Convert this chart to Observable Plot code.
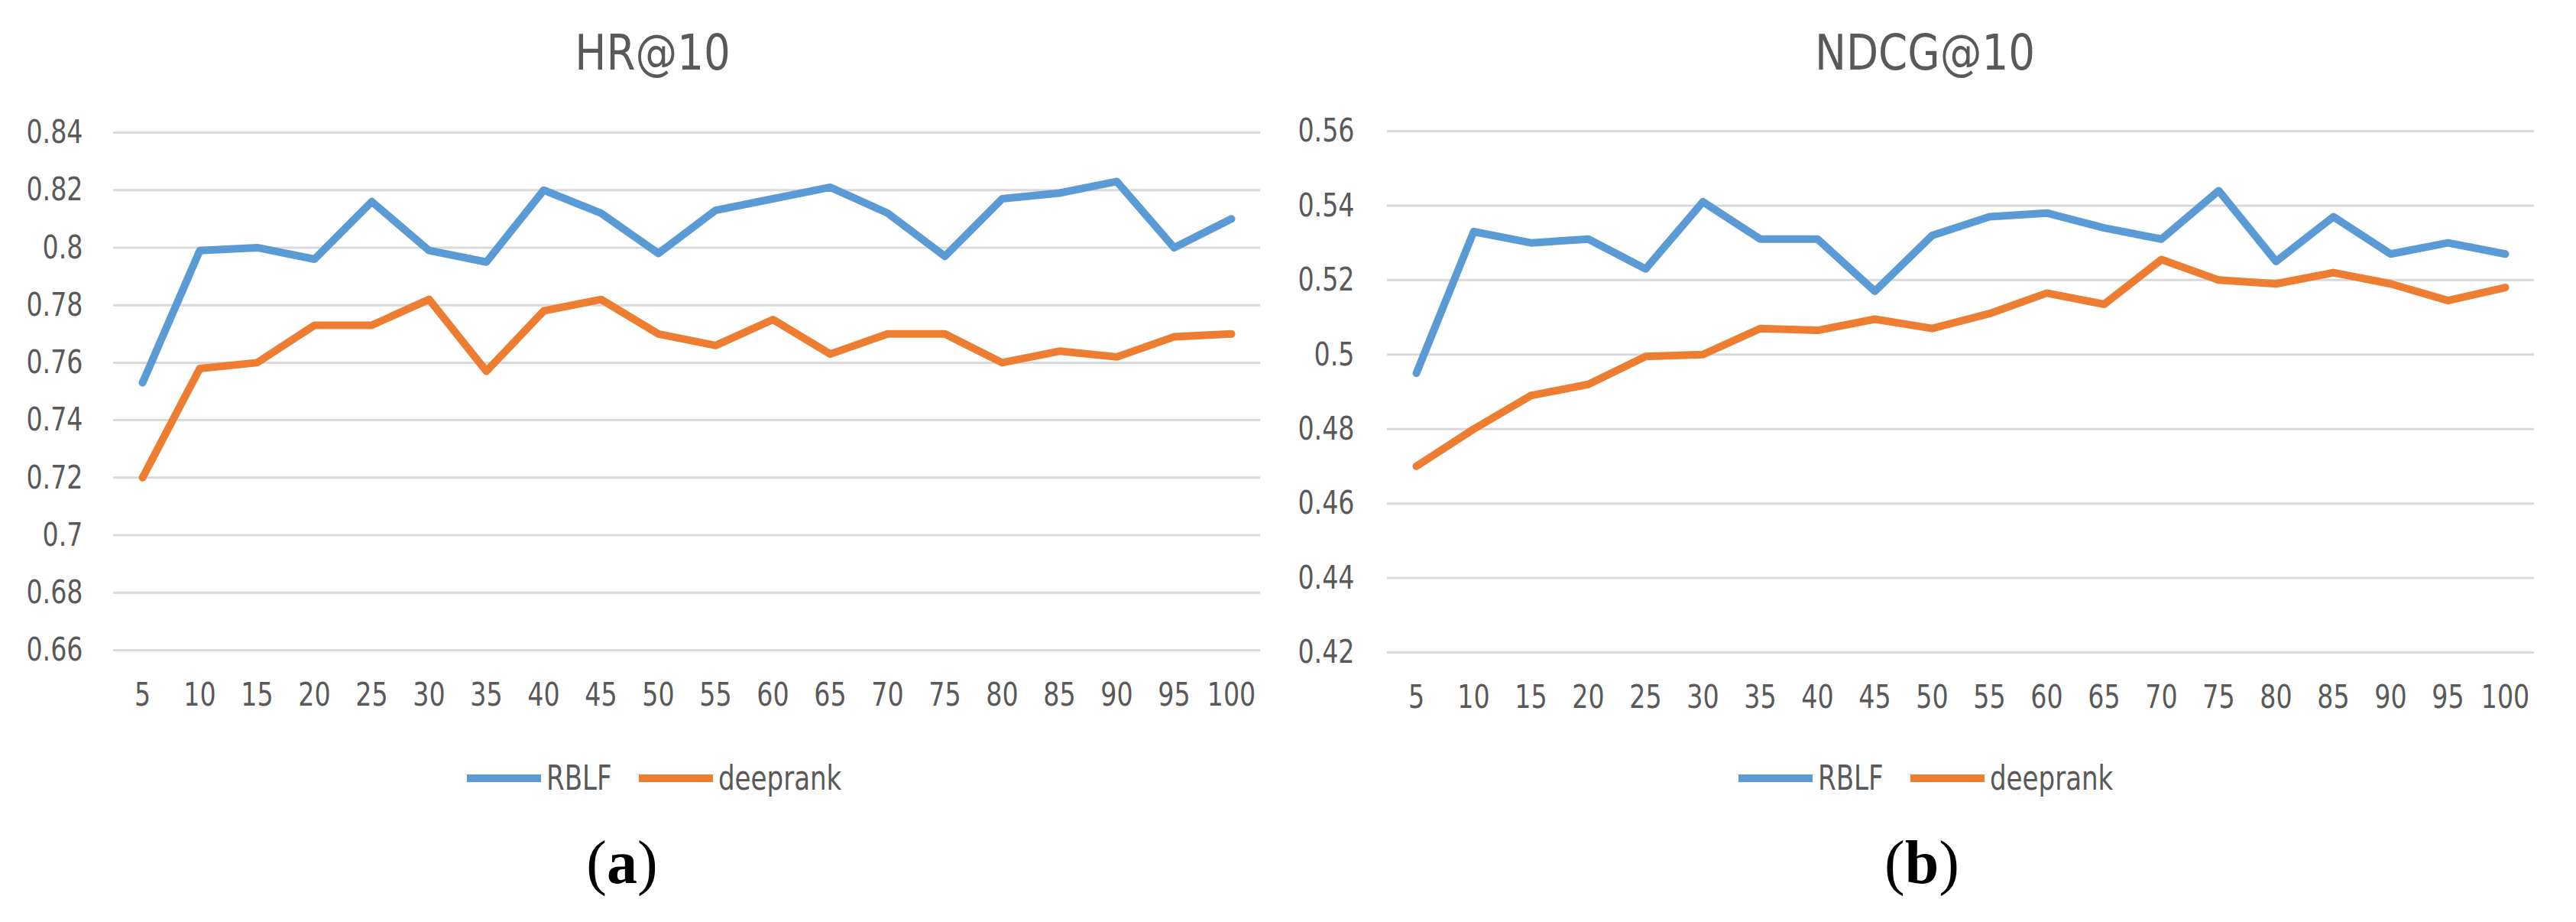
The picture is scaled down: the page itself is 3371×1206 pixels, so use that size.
<!DOCTYPE html>
<html>
<head>
<meta charset="utf-8">
<script src="https://cdn.jsdelivr.net/npm/d3@7"></script>
<script src="https://cdn.jsdelivr.net/npm/@observablehq/plot@0.6"></script>
<style>
  html, body { margin: 0; padding: 0; background: #fff; }
  #page { position: relative; width: 3371px; height: 1206px; background: #fff; overflow: hidden;
          font-family: "Liberation Sans Narrow", "DejaVu Sans Condensed", "Liberation Sans", sans-serif; color: #595959; }
  .panel { position: absolute; top: 0; }
  .title { position: absolute; font-size: 64px; line-height: 64px; white-space: nowrap;
           transform: translateX(-50%) scaleX(0.95); }
  .legend { position: absolute; font-size: 44px; line-height: 50px; white-space: nowrap; }
  .legend .sw { position: absolute; width: 97px; height: 10px; top: 20px; }
  .legend .lab { position: absolute; top: 0; transform: scaleX(0.86); transform-origin: 0 50%; }
  .caption { position: absolute; font-family: "Liberation Serif", "DejaVu Serif", serif; font-size: 80px;
             line-height: 80px; color: #000; transform: translateX(-50%); white-space: nowrap; }
</style>
</head>
<body>
<div id="page"></div>
<script>
// Number of candidate items (x axis categories)
const ks = [5, 10, 15, 20, 25, 30, 35, 40, 45, 50, 55, 60, 65, 70, 75, 80, 85, 90, 95, 100];

// Series names and colours
const seriesNames = ["RBLF", "deeprank"];
const seriesColors = ["#5B9BD5", "#ED7D31"];

// HR@10 values
const hrRBLF = [0.753, 0.799, 0.800, 0.796, 0.816, 0.799, 0.795, 0.820, 0.812, 0.798,
                0.813, 0.817, 0.821, 0.812, 0.797, 0.817, 0.819, 0.823, 0.800, 0.810];
const hrDeeprank = [0.720, 0.758, 0.760, 0.773, 0.773, 0.782, 0.757, 0.778, 0.782, 0.770,
                    0.766, 0.775, 0.763, 0.770, 0.770, 0.760, 0.764, 0.762, 0.769, 0.770];

// NDCG@10 values
const ndcgRBLF = [0.495, 0.533, 0.530, 0.531, 0.523, 0.541, 0.531, 0.531, 0.517, 0.532,
                  0.537, 0.538, 0.534, 0.531, 0.544, 0.525, 0.537, 0.527, 0.530, 0.527];
const ndcgDeeprank = [0.470, 0.480, 0.489, 0.492, 0.4995, 0.500, 0.507, 0.5065, 0.5095, 0.507,
                      0.511, 0.5165, 0.5135, 0.5255, 0.520, 0.519, 0.522, 0.519, 0.5145, 0.518];

// Y axis tick values
const hrTicks = [0.66, 0.68, 0.70, 0.72, 0.74, 0.76, 0.78, 0.80, 0.82, 0.84];
const ndcgTicks = [0.42, 0.44, 0.46, 0.48, 0.50, 0.52, 0.54, 0.56];

const FONT = '"Liberation Sans Narrow", "DejaVu Sans Condensed", "Liberation Sans", sans-serif';
const NARROW = 0.86; // horizontal squeeze applied to axis labels
const fmt = d => String(+d.toFixed(2));

function toRows(a, b) {
  return [
    ...ks.map((k, i) => ({k, value: a[i], series: seriesNames[0]})),
    ...ks.map((k, i) => ({k, value: b[i], series: seriesNames[1]}))
  ];
}

// Squeeze axis tick labels horizontally around their own anchor point
function narrowLabels(svg) {
  svg.querySelectorAll('g[aria-label$="tick label"] text').forEach(t => {
    const tr = t.getAttribute("transform");
    if (tr) {
      t.setAttribute("transform", tr + ` scale(${NARROW},1)`);
    } else {
      const x = +(t.getAttribute("x") || 0);
      t.setAttribute("transform", `translate(${x},0) scale(${NARROW},1) translate(${-x},0)`);
    }
  });
  return svg;
}

function lineChart({rows, ticks, width, marginLeft, marginRight, marginTop, marginBottom, yPad}) {
  return narrowLabels(Plot.plot({
    width, height: 960,
    marginLeft, marginRight, marginTop, marginBottom,
    style: {fontFamily: FONT, fontSize: "43px", color: "#595959", background: "transparent", overflow: "visible"},
    x: {type: "point", domain: ks, padding: 0.5, label: null, tickSize: 0, tickPadding: 42},
    y: {domain: [ticks[0], ticks[ticks.length - 1]], ticks, tickFormat: fmt, label: null, tickSize: 0, tickPadding: yPad},
    color: {domain: seriesNames, range: seriesColors},
    marks: [
      Plot.ruleY(ticks, {stroke: "#D9D9D9", strokeWidth: 3}),
      Plot.line(rows, {x: "k", y: "value", stroke: "series", strokeWidth: 10,
                       strokeLinejoin: "round", strokeLinecap: "round"})
    ]
  }));
}

const page = document.getElementById("page");

function addPanel(left, svg) {
  const div = document.createElement("div");
  div.className = "panel";
  div.style.left = left + "px";
  div.appendChild(svg);
  page.appendChild(div);
}

function addTitle(text, cx) {
  const t = document.createElement("div");
  t.className = "title";
  t.style.left = cx + "px";
  t.style.top = "37px";
  t.textContent = text;
  page.appendChild(t);
}

// Legend: swatch line followed by its label, laid out from the left edge
function addLegend(x0) {
  const lg = document.createElement("div");
  lg.className = "legend";
  lg.style.left = x0 + "px";
  lg.style.top = "993px";
  const offsets = [0, 225];     // start of each entry relative to x0
  seriesNames.forEach((name, i) => {
    const sw = document.createElement("span");
    sw.className = "sw";
    sw.style.left = offsets[i] + "px";
    sw.style.background = seriesColors[i];
    const lab = document.createElement("span");
    lab.className = "lab";
    lab.style.left = (offsets[i] + 104) + "px";
    lab.textContent = name;
    lg.appendChild(sw);
    lg.appendChild(lab);
  });
  page.appendChild(lg);
}

function addCaption(letter, cx) {
  const c = document.createElement("div");
  c.className = "caption";
  c.style.left = cx + "px";
  c.style.top = "1088px";
  c.innerHTML = "(<b>" + letter + "</b>)";
  page.appendChild(c);
}

// (a) HR@10
addPanel(0, lineChart({
  rows: toRows(hrRBLF, hrDeeprank), ticks: hrTicks, width: 1700,
  marginLeft: 148, marginRight: 51, marginTop: 173, marginBottom: 110, yPad: 40
}));
addTitle("HR@10", 854);
addLegend(611);
addCaption("a", 814);

// (b) NDCG@10
addPanel(1700, lineChart({
  rows: toRows(ndcgRBLF, ndcgDeeprank), ticks: ndcgTicks, width: 1671,
  marginLeft: 115, marginRight: 55, marginTop: 171, marginBottom: 107, yPad: 43
}));
addTitle("NDCG@10", 2519);
addLegend(2275);
addCaption("b", 2515);
</script>
</body>
</html>
